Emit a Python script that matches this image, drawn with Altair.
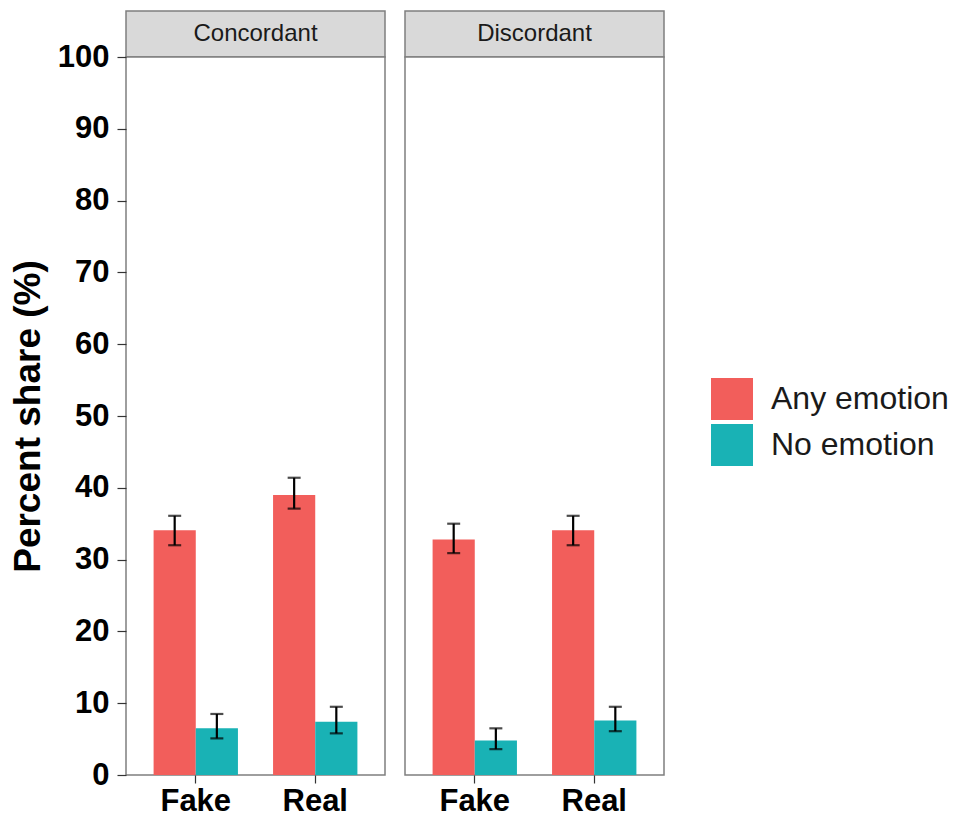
import altair as alt
import pandas as pd

conditions = ["Concordant"] * 4 + ["Discordant"] * 4
veracity = ["Fake", "Fake", "Real", "Real"] * 2
emotion = ["Any emotion", "No emotion"] * 4
share = [34.1, 6.5, 39.0, 7.4, 32.8, 4.8, 34.1, 7.6]
err_lo = [32.0, 5.1, 37.1, 5.8, 30.9, 3.6, 32.0, 6.1]
err_hi = [36.1, 8.5, 41.4, 9.5, 35.0, 6.5, 36.1, 9.5]

panels = ["Concordant", "Discordant"]
x_cats = ["Fake", "Real"]
groups = ["Any emotion", "No emotion"]
colors = ["#F25E5B", "#19B2B5"]
y_ticks = list(range(0, 101, 10))

df = pd.DataFrame({
    "condition": conditions,
    "veracity": veracity,
    "emotion": emotion,
    "share": share,
    "lo": err_lo,
    "hi": err_hi,
})

FONT = "Liberation Sans"
PW, PH, SH = 259, 718, 46
BORDER = "#7f7f7f"


def panel(cond, first):
    d = df[df["condition"] == cond]
    base = alt.Chart(d)
    x_enc = alt.X(
        "veracity:N",
        sort=x_cats,
        title=None,
        scale=alt.Scale(paddingInner=0.294, paddingOuter=0.231),
        axis=alt.Axis(labelAngle=0, labelFont=FONT, labelFontSize=31,
                      labelFontWeight="bold", labelColor="#000000",
                      tickColor="#333333", tickSize=8, tickWidth=1.2,
                      labelPadding=3, domain=False, grid=False),
    )
    if first:
        y_axis = alt.Axis(values=y_ticks, title="Percent share (%)",
                          titleFont=FONT, titleFontSize=37, titleFontWeight="bold",
                          titleColor="#000000", titlePadding=10,
                          labelFont=FONT, labelFontSize=31, labelFontWeight="bold",
                          labelColor="#000000", tickColor="#333333", tickSize=9,
                          tickWidth=1.2, labelPadding=8, domain=False, grid=False)
    else:
        y_axis = None
    y_scale = alt.Scale(domain=[0, 100], nice=False)
    xo = alt.XOffset("emotion:N", sort=groups, scale=alt.Scale(paddingInner=0, paddingOuter=0))
    bars = base.mark_bar().encode(
        x=x_enc,
        xOffset=xo,
        y=alt.Y("share:Q", scale=y_scale, axis=y_axis),
        color=alt.Color("emotion:N", sort=groups,
                        scale=alt.Scale(domain=groups, range=colors),
                        legend=alt.Legend(title=None, orient="none", legendX=585, legendY=367,
                                          symbolType="square", symbolSize=1764,
                                          symbolStrokeWidth=0, labelFont=FONT,
                                          labelFontSize=32, labelColor="#1a1a1a",
                                          labelOffset=18, rowPadding=4, padding=0,
                                          labelLimit=400)),
    )
    rule = base.mark_rule(color="black", strokeWidth=2.2).encode(
        x=alt.X("veracity:N", sort=x_cats), xOffset=xo,
        y=alt.Y("lo:Q", scale=y_scale), y2="hi:Q",
    )
    cap_lo = base.mark_tick(color="black", size=13, thickness=2.2).encode(
        x=alt.X("veracity:N", sort=x_cats), xOffset=xo,
        y=alt.Y("lo:Q", scale=y_scale),
    )
    cap_hi = base.mark_tick(color="black", size=13, thickness=2.2).encode(
        x=alt.X("veracity:N", sort=x_cats), xOffset=xo,
        y=alt.Y("hi:Q", scale=y_scale),
    )
    body = alt.layer(bars, rule, cap_lo, cap_hi).properties(
        width=PW, height=PH,
        view=alt.ViewBackground(stroke=BORDER, strokeWidth=1.5, fill="white"),
    )

    strip = alt.Chart(pd.DataFrame({"label": [cond]})).mark_text(
        font=FONT, fontSize=24, color="#1a1a1a", baseline="middle", align="center"
    ).encode(text="label:N").properties(
        width=PW, height=SH,
        view=alt.ViewBackground(fill="#D9D9D9", stroke=BORDER, strokeWidth=1.5),
    )
    return alt.vconcat(strip, body, spacing=0, bounds="flush")


chart = alt.hconcat(panel(panels[0], True), panel(panels[1], False), spacing=18).resolve_scale(
    color="shared", x="independent", y="independent"
).properties(
    padding={"top": 2, "left": 0, "right": 0, "bottom": 0}
).configure_view(
    stroke=BORDER, strokeWidth=1.5
).configure(background="white")

chart.save("out.html", embed_options={"renderer": "svg", "actions": False})
